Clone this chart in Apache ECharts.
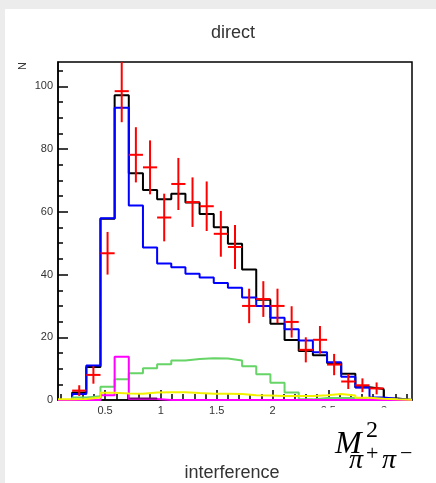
<!DOCTYPE html>
<html>
<head>
<meta charset="utf-8">
<script src="https://cdn.jsdelivr.net/npm/echarts@6/dist/echarts.min.js"></script>
<style>
html,body{margin:0;padding:0;background:#ececec;}
#chart{width:436px;height:483px;}
</style>
</head>
<body>
<div id="chart"></div>
<script>
// ---- axis / binning ----
const xMin = 0.078, xMax = 3.25, nBins = 25;
const yMin = 0, yMax = 107.8;
const xMajorTicks = [0.5, 1, 1.5, 2, 2.5, 3];
const xMinorTicks = [0.1,0.2,0.3,0.4,0.6,0.7,0.8,0.9,1.1,1.2,1.3,1.4,1.6,1.7,1.8,1.9,2.1,2.2,2.3,2.4,2.6,2.7,2.8,2.9,3.1,3.2];
const yMajorTicks = [0, 20, 40, 60, 80, 100];
const yMinorTicks = [5,10,15,25,30,35,45,50,55,65,70,75,85,90,95,105];

// ---- histogram contents (per bin) ----
const totalFit  = [0, 2.4, 10.5, 57.8, 97.2, 72.3, 67.0, 64.0, 65.8, 63.0, 59.3, 55.1, 49.8, 41.6, 32.0, 24.3, 19.1, 15.6, 14.3, 11.8, 8.4, 4.1, 3.5, 0.5, 0];
const directFit = [0, 1.9, 11.0, 58.0, 93.2, 62.0, 48.6, 43.5, 42.3, 40.3, 39.1, 37.3, 35.8, 32.7, 30.0, 26.2, 22.6, 19.0, 15.2, 12.0, 7.4, 4.0, 0.8, 0.3, 0];
const greenComp = [0, 0.8, 1.2, 4.2, 6.6, 8.5, 10.1, 11.4, 12.6, 13.1, 13.3, 13.2, 12.6, 10.8, 8.2, 5.5, 2.4, 0.2, 0.6, 0.6, 0.6, 0.1, 0, 0, 0];
const yellowComp = [0.2, 0.3, 0.8, 2.3, 2.1, 2.0, 2.4, 2.5, 2.5, 2.2, 2.0, 2.0, 1.9, 1.5, 1.4, 1.3, 1.3, 1.3, 1.5, 1.9, 1.4, 0.7, 0.4, 0.2, 0.1];
const magentaComp = [0, 0, 0, 1.5, 13.8, 0.3, 0.3, 0, 0, 0, 0, 0, 0, 0, 0, 0, 0, 0, 0, 0, 0, 0, 0, 0, 0];
const purpleComp = [null, null, null, null, null, 0.5, 0.5, null, null, null, null, null, null, null, null, null, null, null, null, null, null, null, null, null, null];
const dataY   = [null, 3.0, 8.0, 46.8, 98.5, 78.2, 74.2, 58.2, 68.9, 63.1, 61.8, 53.0, 48.8, 30.0, 32.2, 30.0, 24.9, 16.0, 19.2, 11.3, 5.9, 4.7, 3.7, null, null];
const dataErr = [null, 1.7, 2.8, 6.8, 9.9, 8.8, 8.6, 7.6, 8.3, 7.9, 7.9, 7.3, 7.0, 5.5, 5.7, 5.5, 5.0, 4.0, 4.4, 3.4, 2.4, 2.2, 1.9, null, null];

const binW = (xMax - xMin) / nBins;
const edge = k => xMin + k * binW;

function stepData(vals) {
  const out = [];
  for (let k = 0; k < vals.length; k++) {
    const v = vals[k];
    if (v == null) { out.push([edge(k), null]); continue; }
    out.push([edge(k), v]);
    if (k === vals.length - 1 || vals[k + 1] == null) out.push([edge(k + 1), v]);
  }
  return out;
}
function hist(name, vals, color, z) {
  return {
    name, type: 'line', step: 'end', data: stepData(vals), symbol: 'none',
    lineStyle: { color, width: 2 }, connectNulls: false, z, animation: false,
    xAxisIndex: 0, yAxisIndex: 0
  };
}
const redPoints = [];
dataY.forEach((v, k) => { if (v != null) redPoints.push([edge(k) + binW / 2, v, dataErr[k], edge(k), edge(k + 1)]); });

const font = '"Liberation Sans", Arial, sans-serif';
const serif = '"Liberation Serif", "DejaVu Serif", serif';

const chart = echarts.init(document.getElementById('chart'), null, { renderer: 'canvas' });
chart.setOption({
  animation: false,
  backgroundColor: 'transparent',
  grid: { left: 58, right: 24, top: 62, bottom: 83, show: true, borderColor: '#000', borderWidth: 1.5, backgroundColor: '#fff', containLabel: false },
  xAxis: [
    { type: 'value', min: xMin, max: xMax, position: 'bottom',
      axisLine: { show: true, onZero: false, lineStyle: { color: '#000', width: 1.5 } },
      splitLine: { show: false },
      axisTick: { show: true, inside: true, length: 10, lineStyle: { color: '#000', width: 1.5 }, customValues: xMajorTicks },
      axisLabel: { customValues: xMajorTicks, fontSize: 11, fontFamily: font, color: '#333', margin: 5, formatter: v => String(v) } },
    { type: 'value', min: xMin, max: xMax, position: 'bottom',
      axisLine: { show: false }, splitLine: { show: false },
      axisTick: { show: true, inside: true, length: 6, lineStyle: { color: '#000', width: 1.5 }, customValues: xMinorTicks },
      axisLabel: { show: false } }
  ],
  yAxis: [
    { type: 'value', min: yMin, max: yMax, position: 'left',
      axisLine: { show: true, onZero: false, lineStyle: { color: '#000', width: 1.5 } },
      splitLine: { show: false },
      axisTick: { show: true, inside: true, length: 10, lineStyle: { color: '#000', width: 1.5 }, customValues: yMajorTicks },
      axisLabel: { customValues: yMajorTicks, fontSize: 11, fontFamily: font, color: '#333', margin: 5 } },
    { type: 'value', min: yMin, max: yMax, position: 'left',
      axisLine: { show: false }, splitLine: { show: false },
      axisTick: { show: true, inside: true, length: 5, lineStyle: { color: '#000', width: 1.5 }, customValues: yMinorTicks },
      axisLabel: { show: false } }
  ],
  series: [
    hist('total', totalFit, '#000000', 3),
    hist('direct', directFit, '#0000ff', 4),
    hist('green', greenComp, '#66d466', 5),
    hist('magenta', magentaComp, '#ff00ff', 6),
    hist('purple', purpleComp, '#800080', 6),
    hist('yellow', yellowComp, '#f2f200', 7),
    { name: 'data', type: 'custom', data: redPoints, z: 10, xAxisIndex: 0, yAxisIndex: 0,
      encode: { x: 0, y: 1 },
      renderItem: (params, api) => {
        const x = api.value(0), y = api.value(1), e = api.value(2);
        const a = api.coord([api.value(3), y]), b = api.coord([api.value(4), y]);
        const t = api.coord([x, Math.min(y + e, yMax)]), d = api.coord([x, Math.max(y - e, 0)]);
        const st = { stroke: '#ff0000', lineWidth: 2 };
        return { type: 'group', children: [
          { type: 'line', shape: { x1: a[0], y1: a[1], x2: b[0], y2: b[1] }, style: st },
          { type: 'line', shape: { x1: t[0], y1: t[1], x2: d[0], y2: d[1] }, style: st }
        ] };
      } }
  ],
  graphic: [
    { type: 'rect', z: -100, silent: true, shape: { x: 5, y: 9, width: 431, height: 474 }, style: { fill: '#ffffff' } },
    { type: 'text', z: 50, x: 233, y: 33, style: { text: 'direct', font: '18px ' + font, fill: '#333', align: 'center', verticalAlign: 'middle' } },
    { type: 'text', z: 50, x: 23, y: 66, rotation: Math.PI / 2, style: { text: 'N', font: '11px ' + font, fill: '#333', align: 'center', verticalAlign: 'middle' } },
    { type: 'text', z: 50, x: 232, y: 473, style: { text: 'interference', font: '18px ' + font, fill: '#333', align: 'center', verticalAlign: 'middle' } },
    { type: 'rect', z: 60, silent: true, shape: { x: 312, y: 407.5, width: 124, height: 76 }, style: { fill: '#ffffff' } },
    { type: 'text', z: 70, x: 335, y: 445, style: { text: 'M', font: 'italic 32px ' + serif, fill: '#000', align: 'left', verticalAlign: 'middle' } },
    { type: 'text', z: 70, x: 366, y: 431, style: { text: '2', font: '24px ' + serif, fill: '#000', align: 'left', verticalAlign: 'middle' } },
    { type: 'text', z: 70, x: 349, y: 461, style: { text: 'π', font: 'italic 28px ' + serif, fill: '#000', align: 'left', verticalAlign: 'middle' } },
    { type: 'text', z: 70, x: 366, y: 454, style: { text: '+', font: '22px ' + serif, fill: '#000', align: 'left', verticalAlign: 'middle' } },
    { type: 'text', z: 70, x: 382, y: 461, style: { text: 'π', font: 'italic 28px ' + serif, fill: '#000', align: 'left', verticalAlign: 'middle' } },
    { type: 'text', z: 70, x: 400, y: 454, style: { text: '−', font: '22px ' + serif, fill: '#000', align: 'left', verticalAlign: 'middle' } }
  ]
});
</script>
</body>
</html>
